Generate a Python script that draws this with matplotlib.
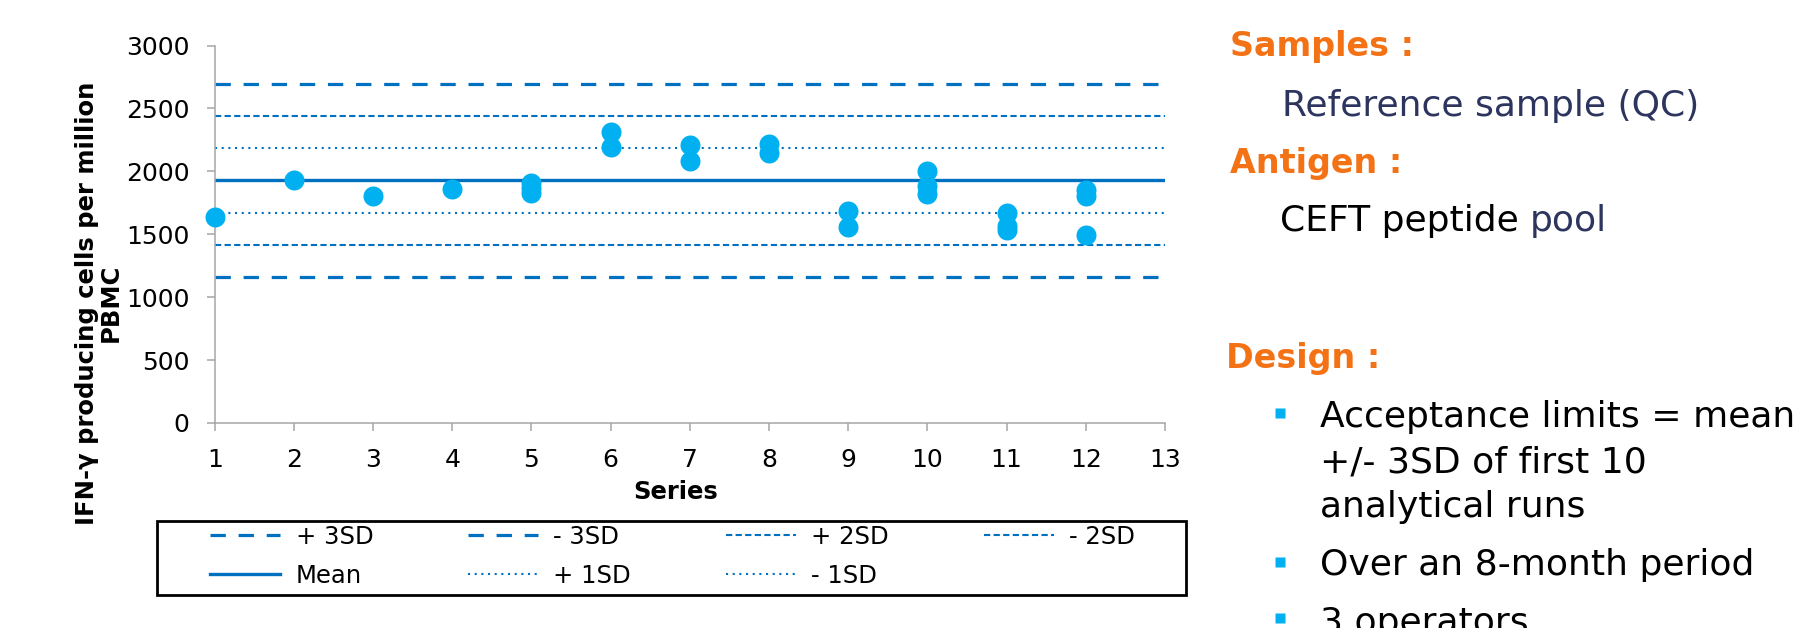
import matplotlib
matplotlib.use('Agg')
import matplotlib.pyplot as plt
from matplotlib.lines import Line2D
from matplotlib.patches import Rectangle

# Datos
series = [1, 2, 3, 4, 5, 6, 7, 8, 9, 10, 11, 12]
values = [
    [1635],
    [1935],
    [1807],
    [1863],
    [1908, 1868, 1829],
    [2314, 2192],
    [2213, 2086],
    [2221, 2147],
    [1688, 1561],
    [2004, 1882, 1818],
    [1669, 1563, 1531],
    [1853, 1805, 1497],
]

# Limites de control (media y +/- SD)
limit_labels = ['+ 3SD', '- 3SD', '+ 2SD', '- 2SD', 'Mean', '+ 1SD', '- 1SD']
limit_values = [2696, 1160, 2440, 1416, 1928, 2184, 1672]
x_span = [1, 13]

W, H = 1808, 628
fig = plt.figure(figsize=(W / 100, H / 100), dpi=100)
ax = fig.add_axes([214.7 / W, 1 - 423 / H, (1165 - 214.7) / W, (423 - 45.5) / H])

line_blue = '#0070C0'
dot_blue = '#00B0F0'

styles = {
    '+ 3SD': dict(lw=2.3, dashes=(4.8, 4.0)),
    '- 3SD': dict(lw=2.3, dashes=(4.8, 4.0)),
    '+ 2SD': dict(lw=1.5, dashes=(3.0, 1.6)),
    '- 2SD': dict(lw=1.5, dashes=(3.0, 1.6)),
    'Mean': dict(lw=2.4, ls='-'),
    '+ 1SD': dict(lw=1.5, dashes=(1.0, 2.2)),
    '- 1SD': dict(lw=1.5, dashes=(1.0, 2.2)),
}

handles = {}
for lab, val in zip(limit_labels, limit_values):
    h, = ax.plot(x_span, [val, val], color=line_blue, label=lab, zorder=2, **styles[lab])
    handles[lab] = h

# Puntos de cada serie
for s, vals in zip(series, values):
    ax.plot([s] * len(vals), vals, 'o', ms=14.4, color=dot_blue, mec='none',
            zorder=3, clip_on=False)

ax.set_xlim(1, 13)
ax.set_ylim(0, 3000)
ax.set_xticks(range(1, 14))
ax.set_yticks(range(0, 3001, 500))
for sp in ['top', 'right']:
    ax.spines[sp].set_visible(False)
for sp in ['left', 'bottom']:
    ax.spines[sp].set_color('#A6A6A6')
    ax.spines[sp].set_linewidth(1.1)
ax.tick_params(axis='both', direction='out', length=6, width=1.1, color='#A6A6A6',
               labelsize=18, pad=12, labelcolor='black')

# Etiquetas de ejes
fig.text(99 / W, 1 - 303 / H, 'IFN-\u03b3 producing cells per million\nPBMC',
         rotation=90, ha='center', va='center', multialignment='center',
         fontsize=17.5, fontweight='bold', linespacing=0.95)
fig.text(675.5 / W, 1 - 499 / H, 'Series', ha='center', va='baseline',
         fontsize=17.5, fontweight='bold')

# Leyenda (orden para que las filas queden como en el original)
order = ['+ 3SD', 'Mean', '- 3SD', '+ 1SD', '+ 2SD', '- 1SD', '- 2SD']
fig.legend([handles[k] for k in order], order, loc='upper left',
           bbox_to_anchor=(210 / W, 0, 925 / W, 1 - 525 / H), mode='expand',
           ncol=4, frameon=False, borderpad=0, borderaxespad=0, fontsize=17.5,
           handlelength=2.9, handletextpad=0.62, labelspacing=0.6)
fig.add_artist(Rectangle((157 / W, 1 - 595 / H), (1186 - 157) / W, (595 - 521) / H,
                         transform=fig.transFigure, fill=False, ec='black', lw=2))

# Texto de la derecha
orange = '#F47216'
navy = '#2D355F'
fig.text(1230 / W, 1 - 56 / H, 'Samples :', fontsize=24, fontweight='bold', color=orange, va='baseline')
fig.text(1282 / W, 1 - 116 / H, 'Reference sample (QC)', fontsize=26, color=navy, va='baseline')
fig.text(1230 / W, 1 - 173.4 / H, 'Antigen :', fontsize=24, fontweight='bold', color=orange, va='baseline')
t1 = fig.text(1280 / W, 1 - 231.5 / H, 'CEFT peptide', fontsize=26, color='black', va='baseline')
fig.canvas.draw()
bb = t1.get_window_extent()
fig.text((bb.x1 + 11) / W, 1 - 231.5 / H, 'pool', fontsize=26, color=navy, va='baseline')
fig.text(1226 / W, 1 - 368.4 / H, 'Design :', fontsize=24, fontweight='bold', color=orange, va='baseline')

bullet_y = [413, 562, 618]
for by in bullet_y:
    fig.add_artist(Line2D([1280 / W], [1 - by / H], marker='s', ms=7.2, color=dot_blue,
                          mec='none', transform=fig.transFigure))
bullet_lines = ['Acceptance limits = mean', '+/- 3SD of first 10', 'analytical runs',
                'Over an 8-month period', '3 operators']
bullet_base = [427, 473, 517, 575, 633]
for txt, yb in zip(bullet_lines, bullet_base):
    fig.text(1320 / W, 1 - yb / H, txt, fontsize=26, color='black', va='baseline')

fig.savefig('out.png', dpi=100)
